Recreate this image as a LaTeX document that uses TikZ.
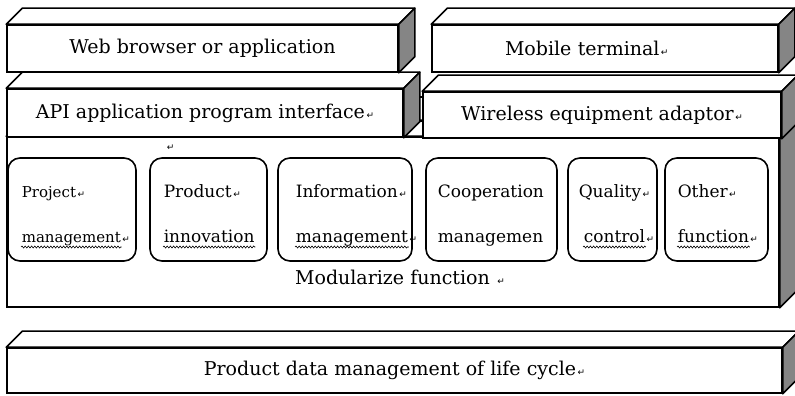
\documentclass[tikz,border=0pt]{standalone}
\usepackage{fontspec}
\setmainfont{DejaVu Serif}
\newfontfamily\markfont{DejaVu Sans}
\usepackage{tikz}
\usetikzlibrary{positioning, calc, decorations.pathmorphing}
\definecolor{slabShade}{HTML}{858585}
% small return mark after a text
\newcommand{\rmark}{{\markfont\fontsize{9}{9}\selectfont\,↵}}
% top and side faces of a slab drawn on its front node
\newcommand{\slabfaces}[1]{%
  \draw[slabtop] (#1.north west) -- ++(16,16) -- ([shift={(16,16)}]#1.north east) -- (#1.north east) -- cycle;
  \draw[slabside] (#1.north east) -- ++(16,16) -- ([shift={(16,16)}]#1.south east) -- (#1.south east) -- cycle;}

\begin{document}
\begin{tikzpicture}[x=1pt, y=1pt, line width=1.6pt,
  slab/.style={draw, fill=white, inner sep=0pt, font=\fontsize{19}{23}\selectfont},
  slabtop/.style={draw, fill=white, line join=round},
  slabside/.style={draw, fill=slabShade, line join=round},
  modbox/.style={draw, rounded corners=12pt, minimum height=103pt, inner sep=0pt, outer sep=0pt},
  modtext/.style={inner sep=0pt, anchor=base west, font=\fontsize{17}{20}\selectfont},
  squiggle/.style={line width=0.6pt, decorate, decoration={snake, amplitude=1pt, segment length=3.2pt}},
  link/.style={draw}]
  \useasboundingbox (0,0) rectangle (795,396);
  \clip (0,0) rectangle (795,396);

  % function layer
  \node[slab, minimum width=772pt, minimum height=170pt] (core) at (393,174) {};
  \slabfaces{core}
  \node[modbox, minimum width=128pt] (mod1) at (72,186.5) {};
  \node[modbox, minimum width=117pt, right=14pt of mod1] (mod2) {};
  \node[modbox, minimum width=134pt, right=11pt of mod2] (mod3) {};
  \node[modbox, minimum width=131pt, right=14pt of mod3] (mod4) {};
  \node[modbox, minimum width=89pt, right=11pt of mod4] (mod5) {};
  \node[modbox, minimum width=103pt, right=8pt of mod5] (mod6) {};

  \node[modtext, font=\fontsize{15}{18}\selectfont] (mod1a) at ([shift={(13,-40)}]mod1.north west) {Project\rmark};
  \node[modtext, font=\fontsize{15}{18}\selectfont] (mod1b) at ([shift={(13,-85)}]mod1.north west) {management\rlap{\rmark}};
  \node[modtext] (mod2a) at ([shift={(13,-40)}]mod2.north west) {Product\rmark};
  \node[modtext] (mod2b) at ([shift={(13,-85)}]mod2.north west) {innovation};
  \node[modtext] (mod3a) at ([shift={(17,-40)}]mod3.north west) {Information\rmark};
  \node[modtext] (mod3b) at ([shift={(17,-85)}]mod3.north west) {management\rlap{\rmark}};
  \node[modtext] (mod4a) at ([shift={(11,-40)}]mod4.north west) {Cooperation};
  \node[modtext] (mod4b) at ([shift={(11,-85)}]mod4.north west) {managemen};
  \node[modtext] (mod5a) at ([shift={(10,-40)}]mod5.north west) {Quality\rmark};
  \node[modtext] (mod5b) at ([shift={(15,-85)}]mod5.north west) {control\rlap{\rmark}};
  \node[modtext] (mod6a) at ([shift={(12,-40)}]mod6.north west) {Other\rmark};
  \node[modtext] (mod6b) at ([shift={(12,-85)}]mod6.north west) {function\rlap{\rmark}};
  \foreach \w in {mod1b, mod2b, mod3b, mod5b, mod6b}
    \draw[squiggle] ([yshift=-4pt]\w.base west) -- ([yshift=-4pt]\w.base east);

  \node[font=\fontsize{19}{23}\selectfont] (corelabel) at (400,119) {Modularize function \rmark};

  % life cycle data layer
  \node[slab, minimum width=775pt, minimum height=45pt] (pdm) at (394.5,25.5)
    {Product data management of life cycle\rmark};
  \slabfaces{pdm}

  % interface layer
  \node[slab, minimum width=396pt, minimum height=48pt] (api) at (205,283)
    {API application program interface\rmark};
  \slabfaces{api}
  \node[slab, minimum width=358pt, minimum height=46pt] (wireless) at (602,281)
    {Wireless equipment adaptor\rmark};
  \slabfaces{wireless}
  \node (blankmark) at (170,248) {\rmark};

  \coordinate (apitie1) at ([shift={(16,16)}]api.east);
  \coordinate (apitie2) at ([shift={(16,-8)}]api.east);
  \draw[link] (apitie1) -- (apitie1 -| wireless.west);
  \draw[link] (apitie2) -- (apitie2 -| wireless.west);

  % client layer
  \node[slab, minimum width=391pt, minimum height=47pt] (web) at (202.5,347.5)
    {Web browser or application};
  \slabfaces{web}
  \node[slab, minimum width=346pt, minimum height=47pt, text width=200pt, inner xsep=73pt,
    align=left] (mobile) at (605,347.5) {Mobile terminal\rmark};
  \slabfaces{mobile}
\end{tikzpicture}
\end{document}
